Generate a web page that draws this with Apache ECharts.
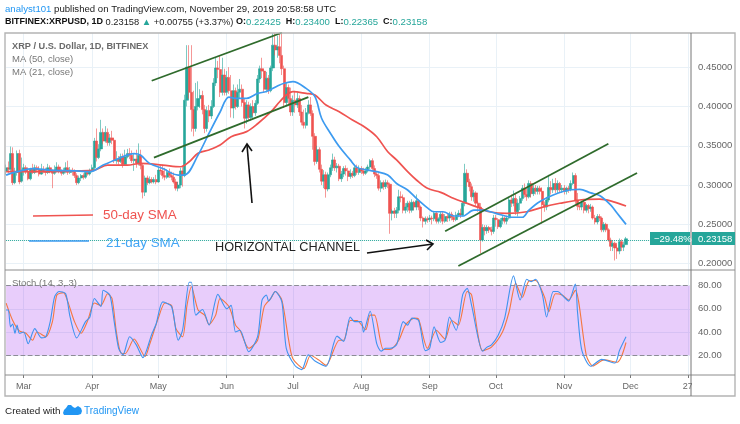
<!DOCTYPE html>
<html><head><meta charset="utf-8">
<style>html,body{margin:0;padding:0;background:#fff}#c{width:740px;height:424px}</style>
<script src="https://cdn.jsdelivr.net/npm/echarts@6/dist/echarts.min.js"></script>
</head><body><div id="c"></div>
<script>
// Candles: [open, close, low, high] in thousandths of a dollar
const feb=[[318,322,313,326],[322,320,315,330],[320,340,316,349],[340,303,300,348],[303,316,301,322],[316,340,312,344],[340,304,301,345],[305,318,303,335]];
const mar=[[318,322,312,327],[322,317,314,325],[317,308,306,320],[308,320,306,322],[320,316,314,327],[316,322,314,326],[322,319,316,325],[319,314,311,324],[314,320,313,327],[320,318,315,324],[318,316,312,322],[316,322,314,327],[322,317,315,325],[317,315,296,320],[315,319,313,325],[319,323,316,329],[323,317,315,326],[317,315,312,320],[315,318,313,322],[318,322,315,329],[322,316,313,331],[316,319,314,323],[319,317,312,322],[317,312,309,320],[312,303,300,315],[303,309,301,312],[309,312,305,314],[312,310,307,315],[310,316,308,319],[316,314,312,318],[314,318,312,321]];
const apr=[[318,322,316,326],[322,356,320,360],[356,335,330,372],[335,346,333,352],[346,367,343,383],[367,356,352,372],[356,367,354,375],[367,354,350,372],[354,360,350,365],[360,357,352,369],[357,331,328,360],[331,333,327,343],[333,330,326,337],[330,336,328,340],[336,326,322,340],[326,336,325,345],[336,340,334,346],[340,338,333,347],[338,331,328,344],[331,333,318,340],[333,328,322,345],[328,338,325,353],[338,325,320,345],[325,291,283,328],[291,309,286,312],[309,303,300,312],[303,307,301,311],[307,304,302,310],[304,307,302,310],[307,304,301,313]];
const may=[[304,319,303,323],[319,318,313,325],[318,312,308,326],[312,310,306,322],[310,316,308,320],[316,312,309,321],[312,310,306,317],[310,304,302,316],[304,296,293,308],[296,300,292,304],[300,318,296,322],[318,312,298,325],[312,408,310,415],[408,450,400,478],[450,418,410,478],[418,396,368,478],[396,372,362,420],[372,400,368,430],[400,410,395,432],[410,414,398,422],[414,396,390,420],[396,372,366,402],[372,395,368,400],[395,388,380,402],[388,400,384,408],[400,430,398,436],[430,449,426,462],[449,447,436,458],[447,418,412,465],[418,440,414,462],[440,418,414,448]];
const jun=[[418,437,414,445],[437,420,416,450],[420,398,386,440],[398,420,385,428],[420,400,396,424],[400,418,398,428],[418,422,410,435],[422,405,400,428],[405,385,372,410],[385,402,378,408],[402,386,382,406],[386,400,382,404],[400,392,388,408],[392,404,388,408],[404,435,402,440],[435,448,430,452],[448,445,436,462],[445,422,418,448],[422,436,418,444],[436,420,416,440],[420,449,418,452],[449,478,445,493],[478,472,465,493],[472,476,462,490],[476,465,455,493],[465,448,440,493],[448,405,398,452],[405,424,400,430],[424,410,403,428],[410,393,388,424]];
const jul=[[393,408,388,414],[408,402,392,420],[402,410,398,418],[410,393,388,414],[393,380,376,402],[380,376,372,396],[376,392,372,398],[392,402,390,408],[402,391,388,412],[391,362,345,395],[362,330,325,366],[330,345,327,350],[345,320,316,348],[320,305,300,326],[305,313,296,319],[313,295,284,317],[295,313,292,316],[313,322,310,326],[322,332,318,340],[332,322,318,336],[322,324,316,328],[324,308,305,327],[308,314,304,318],[314,321,310,324],[321,318,312,325],[318,311,305,322],[311,315,308,320],[315,312,309,318],[312,322,310,326],[322,316,313,326],[316,321,313,325]];
const aug=[[321,318,314,324],[318,315,312,322],[315,318,313,322],[318,323,316,326],[323,331,320,333],[331,321,318,334],[321,314,310,325],[314,312,308,318],[312,296,293,315],[296,303,291,306],[303,298,294,306],[298,303,295,307],[303,301,296,306],[301,264,238,303],[264,267,255,269],[267,264,258,271],[264,268,258,272],[268,285,264,294],[285,284,278,292],[284,268,264,288],[268,272,264,277],[272,277,266,280],[277,268,264,280],[268,278,265,282],[278,272,268,280],[272,280,268,288],[280,272,268,282],[272,258,254,274],[258,254,246,260],[254,257,250,260],[257,256,252,260]];
const sep=[[256,258,253,262],[258,257,250,261],[257,264,254,267],[264,254,251,266],[254,257,251,259],[257,263,252,266],[263,254,250,267],[254,260,252,263],[260,258,253,264],[258,263,254,266],[263,259,255,266],[259,256,253,262],[256,262,254,266],[262,264,259,268],[264,262,258,270],[262,277,260,279],[277,315,273,327],[315,304,298,320],[304,298,292,308],[298,285,280,302],[285,290,279,294],[290,277,273,292],[277,272,266,280],[272,230,213,277],[230,246,228,250],[246,242,236,249],[242,246,238,249],[246,243,239,248],[243,241,236,247],[241,258,238,262]];
const oct=[[258,256,247,262],[256,247,244,258],[247,255,245,258],[255,258,250,262],[258,254,251,260],[254,258,250,261],[258,281,256,285],[281,277,272,288],[277,283,273,293],[283,266,262,290],[266,277,260,282],[277,283,268,286],[283,296,280,300],[296,288,284,302],[288,285,280,296],[285,302,283,306],[302,289,284,305],[289,296,286,300],[296,292,288,300],[292,296,288,299],[296,292,288,299],[292,275,251,297],[275,272,266,279],[272,281,268,285],[281,297,278,313],[297,294,288,305],[294,302,290,308],[302,294,290,309],[294,302,290,306],[302,294,290,304],[294,296,290,300]];
const nov=[[296,292,288,300],[292,296,288,298],[296,294,290,299],[294,302,292,306],[302,312,300,316],[312,281,276,315],[281,273,268,290],[273,272,268,278],[272,278,268,280],[278,268,264,280],[268,274,265,276],[274,270,264,276],[270,272,266,276],[272,258,256,274],[258,253,250,262],[253,260,250,263],[260,258,254,263],[258,243,240,260],[243,250,240,253],[250,243,240,252],[243,230,228,245],[230,222,216,233],[222,226,216,229],[226,220,204,228],[220,216,206,224],[216,228,212,232],[228,221,216,231],[221,224,216,228],[224.25,231.58,223.65,234]];

// Moving averages: [day number since Feb 21, price]
const ma21=[[0,.3127],[5,.317],[12,.321],[20,.319],[32,.318],[38,.317],[44,.3254],[50,.3326],[58,.340],[61,.338],[65,.3276],[71,.321],[78,.3127],[81,.313],[87,.338],[92,.366],[97,.393],[101,.412],[104,.4104],[109,.4104],[114,.4167],[118,.419],[123,.426],[126,.4295],[130,.4316],[136,.423],[140,.4124],[143,.385],[147,.366],[151,.349],[156,.332],[159,.3225],[164,.319],[168,.317],[173,.3128],[177,.302],[182,.2937],[186,.283],[191,.271],[194,.266],[198,.266],[203,.2606],[207,.2606],[212,.268],[216,.268],[222,.264],[230,.259],[234,.259],[237,.268],[242,.279],[248,.2874],[256,.294],[260,.2946],[265,.29],[269,.2866],[274,.2747],[277,.264],[281,.25]];
const ma50=[[0,.317],[12,.317],[32,.318],[40,.319],[46,.3254],[55,.3254],[61,.3276],[71,.3254],[79,.3233],[83,.3297],[87,.3404],[92,.3447],[97,.351],[102,.3616],[109,.368],[114,.378],[120,.393],[124,.406],[127,.4146],[130,.4188],[136,.4166],[140,.4145],[145,.4018],[151,.3933],[157,.3827],[163,.373],[168,.3615],[173,.3424],[177,.332],[182,.317],[186,.3064],[191,.2958],[197,.2907],[203,.283],[209,.2767],[215,.2704],[219,.266],[227,.264],[236,.266],[244,.2726],[251,.2768],[260,.281],[269,.282],[275,.279],[281,.2734]];

// Stochastic: [day number since Feb 21, value]
const stochK=[[0,59],[1,59],[2,44.5],[3,47],[4,39],[5,46],[6,39],[8,40],[10,30],[13,43],[16,35],[18,36],[20,49],[22,70.5],[24,75],[27,73],[29,53],[32,35],[36,49],[38,53],[40,69],[43,62],[44,76],[47,72],[49,49],[51,26],[53,20.5],[56,36],[59,29],[62,18],[66,38],[68,47],[71,66],[75,62],[78,33],[80,41.6],[83,83],[84,83],[86,54.6],[89,59.5],[92,46],[96,72.5],[100,60],[102,63],[104,40],[106,41.6],[110,23],[114,36],[116,67.6],[118,72],[119,66.7],[122,75],[125,66],[127,26],[131,11],[134,7.6],[137,20.5],[140,15],[145,10.5],[150,36.5],[153,32],[156,53],[158,49],[161,49],[162,40],[165,58],[168,30],[170,23.5],[172,26],[174,26],[177,29],[180,49],[182,46],[184,52],[187,50],[190,24],[192,26],[194,44.5],[197,31],[199,33],[201,53],[204,41.6],[207,72.5],[209,77.7],[211,63],[216,23.5],[218,27],[220,29],[223,37],[226,52],[230,88.4],[233,67.6],[236,85.5],[238,83.5],[240,85.5],[243,73],[245,53],[248,75],[250,75],[253,70],[255,66.7],[258,81.4],[259,57.5],[261,24],[265,10.5],[270,16.5],[276,13.3],[278,24],[281,36]];
const stochD=[[0,65],[3,50],[6,41],[9,39],[12,33],[14,40],[18,36],[21,49],[23,72],[26,74],[28,66],[31,49],[34,39],[37,50],[40,65],[43,63],[46,73],[48,69],[50,40],[52,22],[54,21.5],[58,34],[63,19],[65,29],[69,52],[72,65],[75,63],[77,43],[80,36],[82,63],[84,79],[87,59],[90,54.6],[92,46.5],[95,54.6],[97,69],[101,62],[104,46],[106,41.6],[110,26],[114,33],[117,62],[120,69],[122,75],[125,67.6],[128,34],[130,17],[135,8.5],[138,20],[142,15.6],[145,11.3],[151,33],[153,33],[156,50],[159,50],[163,42],[165,54.6],[167,54.6],[171,25],[174,25],[178,33],[181,46],[185,52],[187,51],[191,26],[195,41.6],[199,34],[202,50],[205,46],[209,75],[211,72],[216,24],[220,27],[225,40],[228,57.5],[231,82],[234,70],[237,84],[240,84.5],[244,70.5],[246,57.5],[249,73],[252,72],[255,67.6],[258,76],[263,20],[266,10.8],[271,16],[277,14],[281,31]];

// Hand-drawn trend lines: [day number since Feb 21, price]
const trendA=[[66,.4327],[125,.4938]];
const trendB=[[67,.3348],[137,.4118]];
const trendC=[[199,.2413],[273,.3525]];
const trendD=[[205,.197],[286,.3154]];

const priceTicks=[.2,.25,.3,.35,.4,.45];
const stochTicks=[20,40,60,80];
const lastPrice=0.23158;
const monthTicks={8:'Mar',39:'Apr',69:'May',100:'Jun',130:'Jul',161:'Aug',192:'Sep',222:'Oct',253:'Nov',283:'Dec',309:'27'};

const candles=[...feb,...mar,...apr,...may,...jun,...jul,...aug,...sep,...oct,...nov].map(r=>r.map(v=>v/1000));
const days=[];
for(let i=0;i<311;i++){const d=new Date(Date.UTC(2019,1,21+i));days.push(d.toISOString().slice(0,10));}
const isTick=i=>monthTicks[i]!==undefined;

const FONT='"Liberation Sans",Arial,sans-serif';
const GRIDC='#e9f1f7', UP='#26a69a', DOWN='#ef5350', GRN='#2f6b2c';
const lineS=(data,color,w,xi,yi,z,smooth)=>({type:'line',data,xAxisIndex:xi,yAxisIndex:yi,showSymbol:false,symbol:'none',silent:true,animation:false,z:z,smooth:smooth||false,lineStyle:{color,width:w}});

const chart=echarts.init(document.getElementById('c'),null,{renderer:'canvas'});
const xBase=(gi,lab)=>({type:'category',gridIndex:gi,data:days,boundaryGap:false,
  axisLine:{show:false},
  axisTick:{show:lab,interval:(i)=>isTick(i),length:3,lineStyle:{color:'#777'}},
  axisLabel:{show:lab,interval:(i)=>isTick(i),formatter:(v,i)=>monthTicks[i]||'',color:'#666',fontFamily:FONT,fontSize:9,margin:7,showMinLabel:true,hideOverlap:false},
  splitLine:{show:true,interval:(i)=>isTick(i),lineStyle:{color:GRIDC,width:1}}});
const yBase=(gi,min,max,ticks,fmt)=>({type:'value',gridIndex:gi,position:'right',min,max,
  axisLine:{show:false},axisTick:{show:false,customValues:ticks},
  axisLabel:{show:true,customValues:ticks,formatter:fmt,color:'#666',fontFamily:FONT,fontSize:9.5,margin:8},
  splitLine:{show:true,lineStyle:{color:GRIDC,width:1}}});

const txt=(x,y,t,style)=>({type:'text',x,y,z:60,silent:true,style:Object.assign({text:t,font:'10px '+FONT,fill:'#222',textVerticalAlign:'middle'},style)});
const seg=(x1,y1,x2,y2,c,w)=>({type:'line',z:55,silent:true,shape:{x1,y1,x2,y2},style:{stroke:c,lineWidth:w}});
const poly=(pts,c,w)=>({type:'polyline',z:55,silent:true,shape:{points:pts},style:{stroke:c,lineWidth:w,fill:null}});

chart.setOption({
  animation:false,
  backgroundColor:'#fff',
  grid:[{left:6.1,top:33,width:683.9,height:237},{left:6.1,top:270,width:683.9,height:105}],
  xAxis:[xBase(0,false),xBase(1,true)],
  yAxis:[yBase(0,0.1919,0.4935,priceTicks,v=>v.toFixed(5)),yBase(1,3,93.5,stochTicks,v=>v.toFixed(2))],
  series:[
    {type:'candlestick',name:'XRPUSD',xAxisIndex:0,yAxisIndex:0,data:candles,barWidth:2.6,z:3,animation:false,silent:true,
     itemStyle:{color:UP,color0:DOWN,borderColor:UP,borderColor0:DOWN,borderWidth:.6},
     markLine:{silent:true,symbol:'none',animation:false,label:{show:false},lineStyle:{color:'#26a69a',type:'dotted',width:1},data:[{yAxis:lastPrice}]}},
    lineS(ma50,'#ef5350',1.7,0,0,5,.35),
    lineS(ma21,'#3d9bf0',1.7,0,0,6,.35),
    lineS(trendA,GRN,1.8,0,0,7),lineS(trendB,GRN,1.8,0,0,7),lineS(trendC,GRN,1.8,0,0,7),lineS(trendD,GRN,1.8,0,0,7),
    Object.assign(lineS(stochD,'#f5763f',1.1,1,1,4,.25),{
      markArea:{silent:true,animation:false,itemStyle:{color:'rgba(140,5,235,.2)'},data:[[{yAxis:20},{yAxis:80}]]},
      markLine:{silent:true,symbol:'none',animation:false,label:{show:false},lineStyle:{color:'#8c8c96',type:'dashed',width:1.2},data:[{yAxis:20},{yAxis:80}]}
    }),
    lineS(stochK,'#3f93ef',1.1,1,1,5,.25)
  ],
  graphic:[
    {type:'rect',z:50,silent:true,shape:{x:692,y:376,width:42,height:19},style:{fill:'#fff'}},
    {type:'rect',z:51,silent:true,shape:{x:5,y:33,width:730,height:363},style:{fill:null,stroke:'#b4b4b4',lineWidth:1.4}},
    seg(5,270,735,270,'#8c8c8c',1),
    seg(5,375,735,375,'#8c8c8c',1),
    seg(691,33,691,396,'#777',1),
    {type:'rect',z:52,silent:true,shape:{x:650,y:232,width:40,height:13},style:{fill:'#26a69a'}},
    {type:'rect',z:52,silent:true,shape:{x:692,y:232,width:43,height:13},style:{fill:'#26a69a'}},
    txt(654,239,'\u221229.48%',{font:'9.5px '+FONT,fill:'#fff'}),
    txt(698,239,'0.23158',{font:'9.5px '+FONT,fill:'#fff'}),
    {type:'text',x:5,y:9,z:60,silent:true,style:{textVerticalAlign:'middle',font:'9.6px '+FONT,rich:{a:{fill:'#2196f3',font:'9.6px '+FONT},n:{fill:'#222',font:'9.6px '+FONT}},text:'{a|analyst101}{n| published on TradingView.com, November 29, 2019 20:58:58 UTC}'}},
    {type:'text',x:5,y:22,z:60,silent:true,style:{textVerticalAlign:'middle',font:'9.3px '+FONT,rich:{b:{fill:'#111',font:'bold 9px '+FONT},n:{fill:'#222',font:'9.3px '+FONT},t:{fill:'#26a69a',font:'9.6px '+FONT}},text:'{b|BITFINEX:XRPUSD, 1D}{n| 0.23158 }{t|\u25B2}{n| +0.00755 (+3.37%) }{b|O:}{t|0.22425}{b|  H:}{t|0.23400}{b|  L:}{t|0.22365}{b|  C:}{t|0.23158}'}},
    txt(12,46,'XRP / U.S. Dollar, 1D, BITFINEX',{font:'bold 9.2px '+FONT,fill:'#6a6a6a'}),
    txt(12,59,'MA (50, close)',{font:'9.5px '+FONT,fill:'#777'}),
    txt(12,72,'MA (21, close)',{font:'9.5px '+FONT,fill:'#777'}),
    txt(12,283,'Stoch (14, 3, 3)',{font:'9.5px '+FONT,fill:'#777'}),
    seg(33,216,93,215,'#ef5350',1.6),
    seg(29,241,89,241,'#3d9bf0',1.6),
    txt(103,215.5,'50-day SMA',{font:'13.4px '+FONT,fill:'#ef5350'}),
    txt(106,243,'21-day SMA',{font:'13.4px '+FONT,fill:'#42a5f5'}),
    txt(215,247,'HORIZONTAL CHANNEL',{font:'12.7px '+FONT,fill:'#222'}),
    seg(252,203,247,145,'#111',1.6),
    poly([[242,152],[247,144],[252,151]],'#111',1.6),
    seg(367,253,433,244,'#111',1.6),
    poly([[426,240],[433,244],[427,250]],'#111',1.6),
    txt(5,411,'Created with',{font:'9.9px '+FONT,fill:'#222'}),
    {type:'polygon',z:60,silent:true,shape:{points:[[63,413],[64,410],[66,408],[68,405],[71,405],[73,407],[75,408],[78,406],[81,408],[82,411],[81,414],[78,415],[66,415],[64,415]]},style:{fill:'#2196f3'}},
    poly([[65,413],[70,408],[74,412],[77,410],[80,413]],'#fff',1.2),
    txt(84,411,'TradingView',{font:'10px '+FONT,fill:'#2196f3'})
  ]
});
</script></body></html>
